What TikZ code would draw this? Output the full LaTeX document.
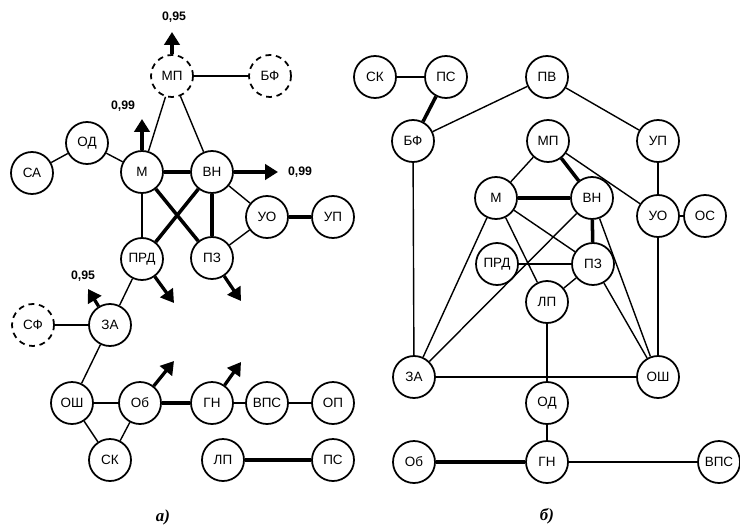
\documentclass[tikz,border=0pt]{standalone}
\usepackage{fontspec}
\setmainfont{Liberation Sans}
\newfontfamily\captfont{Liberation Serif}
\usetikzlibrary{arrows.meta, positioning}

\tikzset{
  vert/.style={circle, draw, line width=1.5pt, minimum size=1.26cm, inner sep=0pt, font=\fontsize{11.5}{13}\selectfont},
  vertx/.style={vert, dash pattern=on 5pt off 4pt},
  lnk/.style={line width=1.2pt},
  lnkb/.style={line width=3pt},
  outarr/.style={line width=2.8pt, -{Triangle[length=11pt, width=13pt]}},
  val/.style={font=\fontsize{10.5}{12}\selectfont\bfseries, inner sep=1pt},
  capt/.style={font=\captfont\Large\itshape\bfseries}
}

\begin{document}
\begin{tikzpicture}[x=0.03cm, y=-0.03cm]
			\useasboundingbox (0,0) rectangle (740,529);
			% a) vertices:
			\node[vertx] (aMP) at (172,76) {МП};
			\node[vertx] (aBF) at (270,76) {БФ};
			\node[vert] (aSA) at (32,173) {СА};
			\node[vert] (aOD) at (87,143) {ОД};
			\node[vert] (aM) at (142,172) {М};
			\node[vert] (aVN) at (212,172) {ВН};
			\node[vert] (aUO) at (267,217) {УО};
			\node[vert] (aUP) at (333,217) {УП};
			\node[vert] (aPRD) at (142,259) {ПРД};
			\node[vert] (aPZ) at (212,258) {ПЗ};
			\node[vertx] (aSF) at (33,325) {СФ};
			\node[vert] (aZA) at (110,325) {ЗА};
			\node[vert] (aOSh) at (72,403) {ОШ};
			\node[vert] (aOb) at (140,403) {Об};
			\node[vert] (aGN) at (212,403) {ГН};
			\node[vert] (aVPS) at (267,403) {ВПС};
			\node[vert] (aOP) at (333,403) {ОП};
			\node[vert] (aSK) at (110,460) {СК};
			\node[vert] (aLP) at (223,460) {ЛП};
			\node[vert] (aPS) at (333,460) {ПС};
			% a) links:
			\draw[lnk] (aMP) -- (aBF);
			\draw[lnk] (aMP) -- (aM);
			\draw[lnk] (aMP) -- (aVN);
			\draw[lnk] (aSA) -- (aOD);
			\draw[lnk] (aOD) -- (aM);
			\draw[lnkb] (aM) -- (aVN);
			\draw[lnk] (aM) -- (aPRD);
			\draw[lnkb] (aM) -- (aPZ);
			\draw[lnkb] (aVN) -- (aPRD);
			\draw[lnkb] (aVN) -- (aPZ);
			\draw[lnk] (aVN) -- (aUO);
			\draw[lnk] (aUO) -- (aPZ);
			\draw[lnkb] (aUO) -- (aUP);
			\draw[lnk] (aPRD) -- (aZA);
			\draw[lnk] (aSF) -- (aZA);
			\draw[lnk] (aZA) -- (aOSh);
			\draw[lnk] (aOSh) -- (aOb);
			\draw[lnk] (aOSh) -- (aSK);
			\draw[lnk] (aOb) -- (aSK);
			\draw[lnkb] (aOb) -- (aGN);
			\draw[lnk] (aGN) -- (aVPS);
			\draw[lnk] (aVPS) -- (aOP);
			\draw[lnkb] (aLP) -- (aPS);
			% a) outputs:
			\coordinate (aMPtip) at (172,32);
			\coordinate (aMtip) at (142,119);
			\coordinate (aVNtip) at (278,172);
			\coordinate (aPRDtip) at (174,303);
			\coordinate (aPZtip) at (241,301);
			\coordinate (aZAtip) at (88,289);
			\coordinate (aObtip) at (174,361);
			\coordinate (aGNtip) at (241,362);
			\draw[outarr] (aMP) -- (aMPtip);
			\draw[outarr] (aM) -- (aMtip);
			\draw[outarr] (aVN) -- (aVNtip);
			\draw[outarr] (aPRD) -- (aPRDtip);
			\draw[outarr] (aPZ) -- (aPZtip);
			\draw[outarr] (aZA) -- (aZAtip);
			\draw[outarr] (aOb) -- (aObtip);
			\draw[outarr] (aGN) -- (aGNtip);
			\node[val] (aMPval) at (174,17) {0,95};
			\node[val] (aMval) at (123,106) {0,99};
			\node[val] (aVNval) at (300,172) {0,99};
			\node[val] (aZAval) at (83,276) {0,95};
			\node[capt] (aCap) at (163,517) {а)};
			% b) vertices:
			\node[vert] (bSK) at (375,77) {СК};
			\node[vert] (bPS) at (446,77) {ПС};
			\node[vert] (bPV) at (547,77) {ПВ};
			\node[vert] (bBF) at (413,141) {БФ};
			\node[vert] (bMP) at (548,141) {МП};
			\node[vert] (bUP) at (658,141) {УП};
			\node[vert] (bM) at (496,198) {М};
			\node[vert] (bVN) at (592,198) {ВН};
			\node[vert] (bUO) at (658,216) {УО};
			\node[vert] (bOS) at (705,216) {ОС};
			\node[vert] (bPRD) at (497,264) {ПРД};
			\node[vert] (bPZ) at (593,264) {ПЗ};
			\node[vert] (bLP) at (547,302) {ЛП};
			\node[vert] (bZA) at (414,377) {ЗА};
			\node[vert] (bOSh) at (658,377) {ОШ};
			\node[vert] (bOD) at (547,403) {ОД};
			\node[vert] (bOb) at (414,462) {Об};
			\node[vert] (bGN) at (547,462) {ГН};
			\node[vert] (bVPS) at (719,462) {ВПС};
			% b) links:
			\draw[lnk] (bSK) -- (bPS);
			\draw[lnkb] (bPS) -- (bBF);
			\draw[lnk] (bBF) -- (bPV);
			\draw[lnk] (bPV) -- (bUP);
			\draw[lnk] (bBF) -- (bZA);
			\draw[lnk] (bMP) -- (bM);
			\draw[lnkb] (bMP) -- (bVN);
			\draw[lnk] (bMP) -- (bUO);
			\draw[lnkb] (bM) -- (bVN);
			\draw[lnk] (bM) -- (bPZ);
			\draw[lnk] (bM) -- (bLP);
			\draw[lnk] (bM) -- (bZA);
			\draw[lnk] (bVN) -- (bZA);
			\draw[lnkb] (bVN) -- (bPZ);
			\draw[lnk] (bVN) -- (bOSh);
			\draw[lnk] (bPRD) -- (bPZ);
			\draw[lnk] (bPZ) -- (bLP);
			\draw[lnk] (bPZ) -- (bOSh);
			\draw[lnk] (bUP) -- (bUO);
			\draw[lnk] (bUO) -- (bOS);
			\draw[lnk] (bUO) -- (bOSh);
			\draw[lnk] (bZA) -- (bOSh);
			\draw[lnk] (bLP) -- (bOD);
			\draw[lnk] (bOD) -- (bGN);
			\draw[lnkb] (bOb) -- (bGN);
			\draw[lnk] (bGN) -- (bVPS);
			\node[capt] (bCap) at (547,516) {б)};
		\end{tikzpicture}
\end{document}
